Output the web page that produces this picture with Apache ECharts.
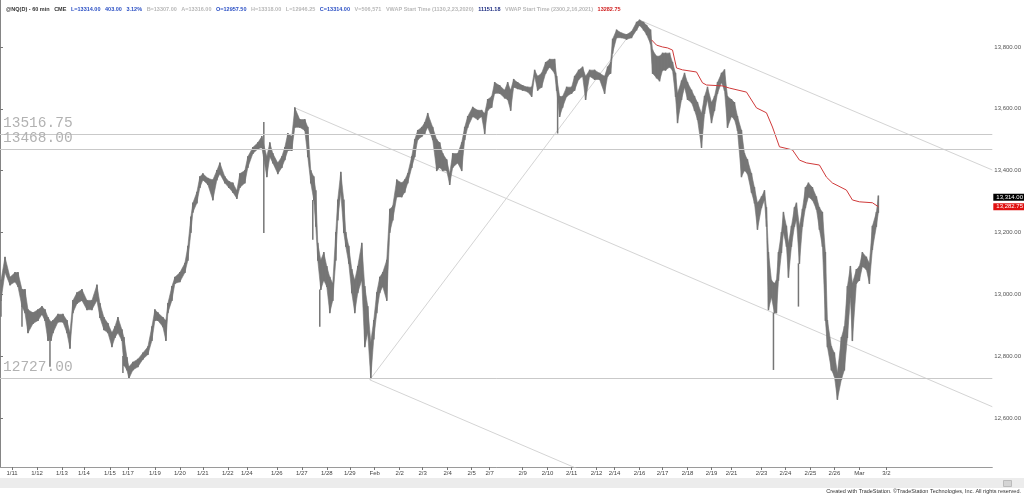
<!DOCTYPE html>
<html>
<head>
<meta charset="utf-8">
<script src="https://cdn.jsdelivr.net/npm/echarts@6/dist/echarts.min.js"></script>
<style>
  html, body { margin: 0; padding: 0; background: #fff; }
  #chart { width: 1024px; height: 495px; }
</style>
</head>
<body>
<div id="chart"></div>
<script>
// x = bar hour index, [hour, low, high]
const priceBars = [
  [1,12980,13045],[5,13070,13120],[10,13030,13055],[15,13040,13070],[18,13025,13070],[22,12960,13015],[25,12940,13015],[28,12875,12950],
  [33,12905,12940],[38,12915,12950],[42,12935,12960],[45,12915,12950],[48,12850,12925],[51,12850,12910],[53,12875,12915],[58,12910,12935],
  [63,12910,12935],[67,12875,12915],[70,12825,12875],[73,12940,12980],[77,12970,13005],[82,12980,13015],[87,12950,12980],[92,12950,12980],
  [97,12980,13030],[100,12925,12970],[104,12885,12925],[108,12875,12905],[112,12830,12875],[115,12860,12895],[118,12875,12925],[122,12850,12885],
  [124,12770,12860],[127,12755,12795],[129,12727,12765],[133,12755,12780],[138,12765,12790],[143,12790,12810],[148,12805,12830],[152,12850,12895],
  [155,12915,12950],[158,12915,12940],[163,12895,12925],[166,12850,12915],[168,12940,12970],[172,12980,13025],[175,13035,13055],[180,13040,13070],
  [185,13070,13100],[188,13110,13155],[191,13200,13250],[193,13265,13295],[197,13295,13330],[200,13345,13380],[203,13370,13390],[208,13355,13375],
  [213,13305,13370],[217,13370,13400],[220,13390,13425],[225,13360,13380],[229,13345,13365],[233,13330,13360],[237,13310,13335],[240,13345,13390],
  [245,13360,13400],[248,13410,13445],[253,13455,13475],[258,13470,13490],[262,13475,13510],[267,13380,13445],[270,13445,13490],[273,13425,13455],
  [278,13390,13425],[282,13410,13445],[285,13435,13475],[288,13465,13520],[292,13465,13510],[295,13540,13603],[300,13540,13565],[305,13530,13565],
  [308,13445,13540],[311,13360,13400],[314,13305,13380],[316,13220,13335],[318,13110,13165],[321,13015,13110],[324,13045,13135],[327,13025,13090],
  [330,12940,13055],[333,12980,13035],[336,13110,13200],[338,13240,13305],[341,13330,13395],[344,13200,13305],[346,13155,13200],[349,13100,13155],
  [352,13005,13080],[355,12940,13045],[358,13005,13090],[362,13045,13165],[365,12830,13025],[368,12875,12960],[371,12727,12845],[374,12855,12915],
  [377,12940,13005],[380,13005,13055],[383,13025,13070],[387,12980,13110],[390,13200,13275],[393,13240,13285],[397,13315,13370],[402,13315,13360],
  [405,13330,13370],[408,13360,13390],[412,13410,13445],[415,13445,13500],[418,13500,13530],[422,13510,13540],[425,13520,13555],[428,13540,13585],
  [433,13500,13540],[437,13400,13500],[440,13410,13490],[443,13400,13455],[447,13400,13435],[450,13355,13390],[453,13410,13455],[458,13425,13455],
  [462,13400,13490],[465,13500,13540],[468,13540,13575],[473,13575,13605],[478,13565,13595],[482,13575,13595],[485,13520,13585],[488,13595,13630],
  [492,13605,13640],[495,13650,13685],[500,13650,13675],[505,13635,13660],[508,13630,13685],[511,13595,13660],[514,13670,13695],[518,13665,13685],
  [523,13660,13675],[528,13655,13670],[532,13640,13670],[535,13705,13725],[538,13660,13705],[542,13670,13715],[546,13715,13750],[550,13735,13760],
  [555,13715,13760],[557,13660,13705],[560,13575,13640],[563,13605,13640],[567,13640,13670],[572,13650,13670],[575,13660,13705],[579,13695,13725],
  [583,13705,13735],[586,13630,13705],[590,13705,13725],[595,13695,13725],[600,13695,13715],[605,13650,13705],[608,13705,13735],[611,13715,13750],
  [613,13780,13825],[617,13830,13855],[622,13830,13845],[627,13825,13840],[632,13830,13850],[637,13855,13880],[640,13870,13887],[644,13855,13880],
  [647,13840,13870],[651,13810,13855],[653,13715,13790],[657,13700,13770],[660,13690,13770],[663,13725,13780],[666,13725,13780],[670,13735,13780],
  [673,13725,13750],[676,13640,13715],[678,13555,13650],[682,13630,13690],[685,13670,13715],[688,13630,13685],[692,13620,13660],[695,13595,13640],
  [698,13565,13620],[702,13475,13585],[705,13585,13640],[708,13630,13670],[712,13555,13620],[715,13595,13640],[718,13650,13685],[722,13685,13715],
  [725,13660,13726],[728,13540,13640],[732,13575,13630],[735,13565,13620],[738,13530,13575],[742,13380,13530],[745,13400,13455],[748,13390,13435],
  [752,13330,13390],[755,13295,13345],[758,13210,13295],[762,13280,13315],[765,13305,13335],[767,13220,13280],[769,12950,13135],[772,12990,13045],
  [775,12940,13035],[777,12940,13045],[779,13045,13135],[782,13135,13200],[784,13200,13265],[787,13155,13220],[789,13055,13165],[792,13155,13220],
  [795,13220,13280],[797,13240,13295],[800,13100,13220],[803,13220,13275],[806,13280,13345],[809,13315,13360],[813,13305,13345],[817,13275,13315],
  [820,13210,13280],[823,13155,13265],[826,12915,13135],[828,12830,12915],[832,12755,12830],[835,12735,12810],[838,12660,12745],[842,12725,12860],
  [845,12755,12895],[848,12860,13025],[851,12990,13090],[853,12850,13035],[857,13035,13080],[860,13045,13090],[863,13090,13135],[867,13080,13120],
  [870,13035,13100],[873,13145,13220],[877,13220,13265],[879,13265,13318]
];

// single-bar spikes [hour, low, high]
const spikes = [
  [1,12927,12982],[22,12895,12960],[50,12765,12850],[123,12745,12800],[264,13198,13557],
  [313,13176,13305],[320,12895,13015],[558,13520,13660],[774,12755,12940],[799,12960,13100]
];

// VWAP (start 2300, 2/16/2021)
const vwap = [
  [652,13823],[657,13806],[663,13800],[668,13797],[673,13790],[677,13732],[683,13726],[697,13719],
  [703,13684],[707,13677],[723,13674],[730,13667],[747,13654],[757,13603],[767,13587],[773,13541],
  [780,13477],[793,13467],[800,13434],[807,13425],[820,13418],[827,13379],[833,13360],[847,13337],
  [853,13305],[860,13299],[873,13296],[879,13283]
];

const trendLines = [
  [[640,13887],[993,13402]],
  [[295,13603],[993,12636]],
  [[370,12723],[620,12377]],
  [[370,12723],[635,13861]]
];

const levels = [13516.75, 13468.00, 12727.00];
const lastPrice = 13314.00;
const lastVwap = 13282.75;

const priceTicks = [12600, 12800, 13000, 13200, 13400, 13600, 13800];
const tickHours = [12,37,62,84,110,128,155,180,203,228,247,277,302,327,350,375,400,423,448,472,490,
  523,548,572,597,615,640,663,688,712,732,762,786,811,835,860,887];
const tickLabels = ['1/11','1/12','1/13','1/14','1/15','1/17','1/19','1/20','1/21','1/22','1/24','1/26','1/27','1/28','1/29','Feb','2/2','2/3','2/4','2/5','2/7',
  '2/9','2/10','2/11','2/12','2/14','2/16','2/17','2/18','2/19','2/21','2/23','2/24','2/25','2/26','Mar','3/2'];

const BAR = '#767676';
const fmt = v => v.toLocaleString('en-US', { minimumFractionDigits: 2, maximumFractionDigits: 2 });

const chart = echarts.init(document.getElementById('chart'));

chart.setOption({
  animation: false,
  backgroundColor: '#fff',
  title: [{
    left: 1, top: 1,
    text: '{d|@NQ(D) - 60 min   CME   }{b|L=13314.00   403.00   3.12%   }{g|B=13307.00   A=13316.00   }' +
          '{b|O=12957.50   }{g|H=13318.00   L=12946.25   }{b|C=13314.00   }{g|V=506,571   VWAP Start Time (1130,2,23,2020)   }' +
          '{n|11151.18   }{g|VWAP Start Time (2300,2,16,2021)   }{r|13282.75}',
    textStyle: {
      fontSize: 5.5, fontFamily: 'Liberation Sans',
      rich: {
        d: { color: '#333', fontSize: 5.5 },
        b: { color: '#2a4fc4', fontSize: 5.5 },
        g: { color: '#b8b8b8', fontSize: 5.5 },
        n: { color: '#1c2c80', fontSize: 5.5 },
        r: { color: '#d02020', fontSize: 5.5 }
      }
    }
  }],
  graphic: [
    { type: 'rect', left: 0, top: 478, shape: { width: 1024, height: 10 }, style: { fill: '#ececec' }, silent: true },
    { type: 'rect', left: 1003, top: 480, shape: { width: 8, height: 6 }, style: { fill: '#d4d4d4', stroke: '#bbb' }, silent: true },
    { type: 'text', right: 3, top: 488, silent: true,
      style: { text: 'Created with TradeStation. \u00a9TradeStation Technologies, Inc. All rights reserved.',
               fill: '#333', font: '5.5px Liberation Sans' } }
  ],
  grid: { left: 0, right: 31, top: 0, bottom: 28, containLabel: false },
  xAxis: {
    type: 'value', min: 0, max: 993,
    splitLine: { show: false },
    axisLine: { show: true, onZero: false, lineStyle: { color: '#9a9a9a', width: 1 } },
    axisTick: { show: true, customValues: tickHours, length: 3, lineStyle: { color: '#777' } },
    axisLabel: {
      customValues: tickHours, color: '#444', fontSize: 6, margin: 3, fontFamily: 'Liberation Sans',
      formatter: v => tickLabels[tickHours.indexOf(v)] || ''
    }
  },
  yAxis: [{
    type: 'value', position: 'right', min: 12441, max: 13952,
    splitLine: { show: false },
    axisLine: { show: true, lineStyle: { color: '#777', width: 1 } },
    axisTick: { show: true, customValues: priceTicks, length: 3, lineStyle: { color: '#777' } },
    axisLabel: { customValues: priceTicks, color: '#555', fontSize: 6, margin: 2, fontFamily: 'Liberation Sans', formatter: fmt }
  }, {
    type: 'value', position: 'left', min: 12441, max: 13952,
    splitLine: { show: false },
    axisLine: { show: true, lineStyle: { color: '#8a8a8a', width: 1.5 } },
    axisTick: { show: false }, axisLabel: { show: false }
  }],
  series: [
    // trend lines
    ...trendLines.map(seg => ({
      type: 'line', data: seg, symbol: 'none', silent: true, clip: true, z: 1,
      lineStyle: { color: '#d4d4d4', width: 1 }
    })),
    // horizontal levels with their labels
    {
      type: 'line', data: [], silent: true, z: 1,
      markLine: {
        silent: true, symbol: ['none', 'none'], animation: false,
        lineStyle: { color: '#c9c9c9', width: 1, type: 'solid' },
        label: {
          position: 'insideStartTop', distance: [3, 4],
          formatter: p => Number(p.value).toFixed(2),
          fontFamily: 'Liberation Mono', fontSize: 14.5, color: '#b2b2b2'
        },
        data: levels.map(v => ({ yAxis: v }))
      }
    },
    // price bars drawn as a continuous high/low band between consecutive bars
    {
      type: 'custom', data: priceBars, clip: true, z: 3,
      encode: { x: 0, y: [1, 2] },
      renderItem: (params, api) => {
        const i = params.dataIndex;
        const x = api.value(0), lo = api.value(1), hi = api.value(2);
        const next = priceBars[i + 1];
        const a = api.coord([x, hi]), b = api.coord([x, lo]);
        const children = [{
          type: 'line', shape: { x1: a[0], y1: a[1] - 0.5, x2: b[0], y2: b[1] + 0.5 },
          style: { stroke: BAR, lineWidth: 1.5 }
        }];
        if (next) {
          const c = api.coord([next[0], next[2]]), d = api.coord([next[0], next[1]]);
          children.push({
            type: 'polygon',
            shape: { points: [[a[0], a[1]], [c[0], c[1]], [d[0], d[1]], [b[0], b[1]]] },
            style: { fill: BAR, stroke: BAR, lineWidth: 0.6 }
          });
        }
        return { type: 'group', children };
      }
    },
    // spikes
    {
      type: 'custom', data: spikes, clip: true, z: 3,
      encode: { x: 0, y: [1, 2] },
      renderItem: (params, api) => {
        const p1 = api.coord([api.value(0), api.value(1)]);
        const p2 = api.coord([api.value(0), api.value(2)]);
        return { type: 'line', shape: { x1: p1[0], y1: p1[1], x2: p2[0], y2: p2[1] },
                 style: { stroke: BAR, lineWidth: 1.5 } };
      }
    },
    // VWAP
    {
      type: 'line', data: vwap, symbol: 'none', z: 4, silent: true,
      lineStyle: { color: '#d03a3a', width: 1 }
    },
    // last price boxes on the axis
    {
      type: 'line', data: [], silent: true, z: 5,
      markLine: {
        silent: true, symbol: ['none', 'none'], animation: false,
        lineStyle: { color: 'rgba(0,0,0,0)', width: 0 },
        label: {
          show: true, position: 'end', distance: 1, fontSize: 6, fontFamily: 'Liberation Sans',
          padding: [1, 3, 0, 3], formatter: p => fmt(Number(p.value))
        },
        data: [
          { yAxis: lastPrice, label: { backgroundColor: '#000', color: '#fff' } },
          { yAxis: lastVwap, label: { backgroundColor: '#e01010', color: '#fff' } }
        ]
      }
    }
  ]
});
</script>
</body>
</html>
